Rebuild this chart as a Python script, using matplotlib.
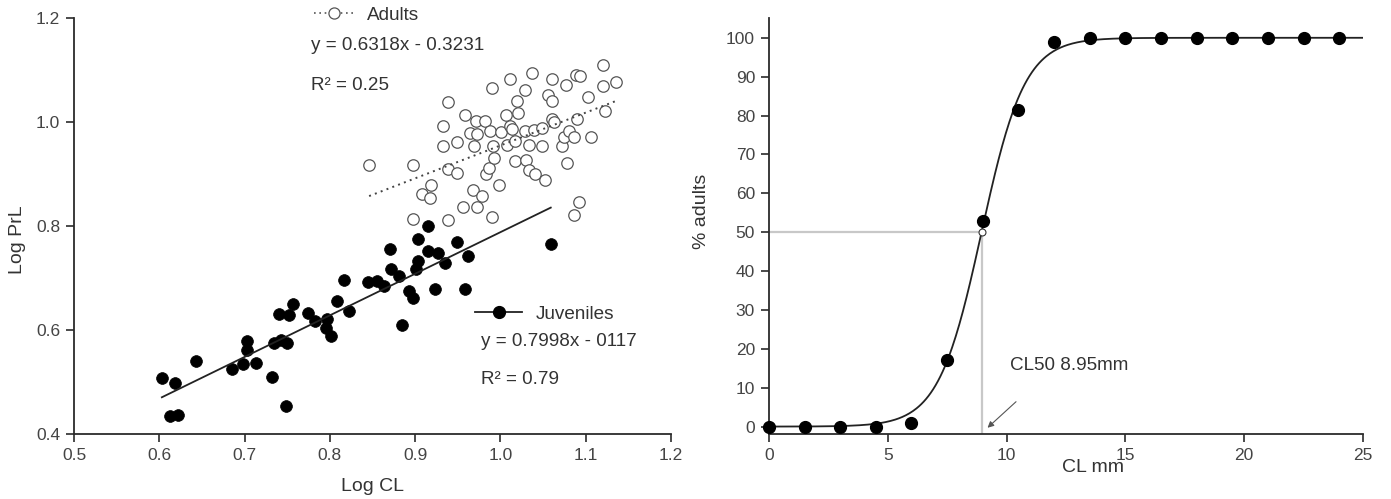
import numpy as np
import matplotlib
matplotlib.use("Agg")
import matplotlib.pyplot as plt
from matplotlib.lines import Line2D

plt.rcParams['font.family'] = ['Liberation Sans', 'DejaVu Sans']

# ---------------- Left panel data (Log CL vs Log PrL) ----------------
juv_x = [0.603, 0.618, 0.612, 0.622, 0.643, 0.685, 0.703, 0.703, 0.698, 0.713,
         0.732, 0.740, 0.757, 0.752, 0.735, 0.743, 0.750, 0.748, 0.774, 0.782,
         0.797, 0.795, 0.801, 0.808, 0.816, 0.822, 0.845, 0.855, 0.863, 0.871,
         0.872, 0.881, 0.884, 0.893, 0.898, 0.901, 0.903, 0.903, 0.915, 0.915,
         0.927, 0.923, 0.935, 0.949, 0.962, 0.958, 1.059]
juv_y = [0.508, 0.498, 0.434, 0.436, 0.540, 0.525, 0.578, 0.562, 0.535, 0.537,
         0.510, 0.631, 0.649, 0.628, 0.575, 0.581, 0.575, 0.454, 0.633, 0.618,
         0.621, 0.604, 0.588, 0.655, 0.697, 0.636, 0.692, 0.695, 0.684, 0.756,
         0.717, 0.703, 0.610, 0.674, 0.662, 0.717, 0.732, 0.775, 0.799, 0.751,
         0.748, 0.678, 0.729, 0.770, 0.742, 0.678, 0.765]

adu_x = [0.846, 0.897, 0.908, 0.917, 0.918, 0.897, 0.938, 0.938, 0.933, 0.933,
         0.938, 0.949, 0.949, 0.956, 0.959, 0.964, 0.969, 0.971, 0.973, 0.968,
         0.973, 0.978, 0.982, 0.983, 0.986, 0.988, 0.991, 0.992, 0.990, 0.990,
         0.998, 1.001, 1.007, 1.008, 1.011, 1.011, 1.013, 1.017, 1.017, 1.020,
         1.021, 1.029, 1.029, 1.030, 1.033, 1.033, 1.037, 1.039, 1.041, 1.049,
         1.049, 1.052, 1.056, 1.060, 1.060, 1.060, 1.063, 1.072, 1.074, 1.077,
         1.078, 1.080, 1.086, 1.089, 1.093, 1.090, 1.092, 1.086, 1.103, 1.106,
         1.120, 1.120, 1.123, 1.136]
adu_y = [0.917, 0.917, 0.862, 0.853, 0.878, 0.814, 0.812, 1.038, 0.993, 0.953,
         0.910, 0.902, 0.962, 0.837, 1.014, 0.978, 0.953, 1.001, 0.977, 0.869,
         0.836, 0.857, 1.001, 0.899, 0.912, 0.982, 0.953, 0.931, 1.065, 0.817,
         0.878, 0.981, 1.014, 0.955, 1.083, 0.992, 0.987, 0.963, 0.924, 1.040,
         1.017, 1.061, 0.983, 0.926, 0.955, 0.907, 1.095, 0.985, 0.900, 0.953,
         0.988, 0.888, 1.051, 1.083, 1.041, 1.006, 1.000, 0.954, 0.971, 1.071,
         0.921, 0.982, 0.972, 1.091, 1.088, 1.006, 0.847, 0.821, 1.048, 0.971,
         1.110, 1.070, 1.022, 1.077]

adu_slope, adu_icpt = 0.6318, 0.323
juv_slope, juv_icpt = 0.7998, -0.0117

left_xticks = [0.5, 0.6, 0.7, 0.8, 0.9, 1.0, 1.1, 1.2]
left_yticks = [0.4, 0.6, 0.8, 1.0, 1.2]

# ---------------- Right panel data (% adults vs CL mm) ----------------
cl_mm = [0, 1.5, 3, 4.5, 6, 7.5, 9, 10.5, 12, 13.5, 15, 16.5, 18, 19.5, 21, 22.5, 24]
pct_adults = [0, 0, 0, 0, 1, 17, 53, 81.5, 99, 100, 100, 100, 100, 100, 100, 100, 100]
CL50 = 8.95
k_logit = 1.1
right_xticks = [0, 5, 10, 15, 20, 25]
right_yticks = list(range(0, 101, 10))

TXT = '#333333'
AX = '#2b2b2b'
TICK_FS = 12.5
LAB_FS = 14
ANN_FS = 13.6

fig = plt.figure(figsize=(13.91, 4.99), dpi=100)
axL = fig.add_axes([0.0532, 0.1303, 0.4292, 0.8337])
axR = fig.add_axes([0.5528, 0.1303, 0.4270, 0.8337])

for ax in (axL, axR):
    for s in ('top', 'right'):
        ax.spines[s].set_visible(False)
    for s in ('left', 'bottom'):
        ax.spines[s].set_color(AX)
        ax.spines[s].set_linewidth(1.3)
    ax.tick_params(direction='out', length=6, width=1.2, color=AX,
                   labelsize=TICK_FS, labelcolor='#444444', pad=4)

# ---- Left ----
axL.scatter(adu_x, adu_y, s=68, facecolors='white', edgecolors='#555555',
            linewidths=0.9, zorder=2)
axL.scatter(juv_x, juv_y, s=72, facecolors='black', edgecolors='black',
            linewidths=0.5, zorder=3)
xa = np.array([min(adu_x), max(adu_x)])
axL.plot(xa, adu_slope * xa + adu_icpt, linestyle=(0, (1, 2.2)), color='#444444',
         lw=1.4, zorder=4)
xj = np.array([min(juv_x), max(juv_x)])
axL.plot(xj, juv_slope * xj + juv_icpt, '-', color='#222222', lw=1.3, zorder=4)

axL.set_xlim(0.5, 1.2)
axL.set_ylim(0.4, 1.2)
axL.set_xticks(left_xticks)
axL.set_xticklabels([f'{v:.1f}' for v in left_xticks])
axL.set_yticks(left_yticks)
axL.set_yticklabels([f'{v:.1f}' for v in left_yticks])
axL.set_xlabel('Log CL', fontsize=LAB_FS, color=TXT, va='center')
axL.set_ylabel('Log PrL', fontsize=LAB_FS, color=TXT, va='center')
axL.xaxis.set_label_coords(0.50, -0.127)
axL.yaxis.set_label_coords(-0.094, 0.466)

h_adu = Line2D([], [], linestyle=(0, (1, 2.2)), color='#555555', lw=1.2, marker='o',
               markersize=8, markerfacecolor='white', markeredgecolor='#555555',
               markeredgewidth=0.9)
h_juv = Line2D([], [], linestyle='-', color='#222222', lw=1.3, marker='o',
               markersize=8.5, markerfacecolor='black', markeredgecolor='black')
legA = axL.legend([h_adu], ['Adults'], loc='center left', bbox_to_anchor=(0.402, 1.007),
                  frameon=False, fontsize=ANN_FS, handlelength=2.1, handletextpad=0.7,
                  borderpad=0, borderaxespad=0, numpoints=1, labelcolor=TXT)
legA.set_clip_on(False)
axL.add_artist(legA)
legJ = axL.legend([h_juv], ['Juveniles'], loc='center left', bbox_to_anchor=(0.672, 0.288),
                  frameon=False, fontsize=ANN_FS, handlelength=2.5, handletextpad=0.7,
                  borderpad=0, borderaxespad=0, numpoints=1, labelcolor=TXT)

axL.text(0.778, 1.148, 'y = 0.6318x - 0.3231', fontsize=ANN_FS, color=TXT, va='center')
axL.text(0.778, 1.071, 'R² = 0.25', fontsize=ANN_FS, color=TXT, va='center')
axL.text(0.977, 0.577, 'y = 0.7998x - 0117', fontsize=ANN_FS, color=TXT, va='center')
axL.text(0.977, 0.504, 'R² = 0.79', fontsize=ANN_FS, color=TXT, va='center')

# ---- Right ----
ymin, ymax = -1.9, 105.1
xs = np.linspace(0, 25, 500)
curve = 100.0 / (1.0 + np.exp(-k_logit * (xs - CL50)))
axR.plot([0, CL50], [50, 50], color='#c8c8c8', lw=1.6, zorder=1)
axR.plot([CL50, CL50], [ymin, 50], color='#c8c8c8', lw=1.6, zorder=1)
axR.plot(xs, curve, color='#222222', lw=1.3, zorder=2)
axR.plot(cl_mm, pct_adults, 'o', color='black', markersize=8.5, zorder=3, clip_on=False)
axR.plot([CL50], [50], 'o', markersize=5, markerfacecolor='white',
         markeredgecolor='#333333', markeredgewidth=0.8, zorder=4)
axR.annotate('', xy=(9.2, -0.3), xytext=(10.4, 6.4),
             arrowprops=dict(arrowstyle='-|>', color='#555555', lw=0.8,
                             mutation_scale=9, shrinkA=0, shrinkB=0))
axR.text(10.15, 15.6, 'CL50 8.95mm', fontsize=ANN_FS, color=TXT, va='center')

axR.set_xlim(0, 25)
axR.set_ylim(ymin, ymax)
axR.set_xticks(right_xticks)
axR.set_yticks(right_yticks)
axR.set_xlabel('CL mm', fontsize=LAB_FS, color=TXT, va='center')
axR.set_ylabel('% adults', fontsize=LAB_FS, color=TXT, va='center')
axR.xaxis.set_label_coords(0.545, -0.08)
axR.yaxis.set_label_coords(-0.113, 0.534)

fig.savefig('out.png', dpi=100, facecolor='white')
